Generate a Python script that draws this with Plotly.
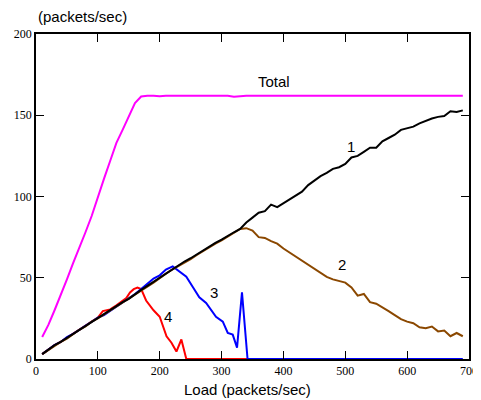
import plotly.graph_objects as go

# ---- data ----
load = list(range(10, 700, 10))

total = [13.5, 21, 30, 39, 49, 59, 68, 78, 88, 100, 111, 122, 133, 141, 149, 157.5, 161.5, 162, 162, 161.7,
         162, 162, 162, 162, 162, 162, 162, 162, 162, 162, 162, 161.4, 161.8, 162, 162, 161.8, 162, 162, 162, 162,
         162, 162, 162, 161.6, 162, 161.6, 162, 162, 162, 162, 162, 162, 162, 162, 162, 162, 162, 162, 162, 162,
         162, 162, 162, 162, 162, 162, 162, 162, 162]

series1 = [3, 6, 8.5, 10.5, 13, 15.5, 18, 20.5, 23, 25.5, 28, 30, 32.5, 35, 37, 40, 42.5, 45, 47.5, 50.5,
           53, 55, 57.5, 60, 62, 64.5, 67, 69, 71.5, 73.5, 76, 78, 80, 84, 87, 90, 91, 95, 93.5, 96,
           98.5, 101, 103, 107, 110, 112.5, 114.5, 117, 118, 120, 124, 125, 127.5, 130, 130, 134, 136, 138, 141, 142,
           143, 145, 146.5, 148, 149, 149.5, 152.5, 152, 153]

series2 = [3, 5.5, 8.5, 10.5, 12.5, 15.5, 18, 20, 23, 25, 27.5, 30, 32, 34.5, 37, 39.5, 42, 44.5, 47, 50,
           52.5, 55, 57, 59.5, 61.5, 64, 66.5, 69, 71, 73, 75.5, 77.5, 80, 80.5, 79, 75, 74.5, 72.5, 71, 68,
           65.5, 63.5, 61, 58.5, 56, 53, 50.5, 49, 48, 47, 44, 39, 40, 35, 34, 32, 29.5, 27, 24.5, 23,
           22, 19.5, 19, 20, 17, 17.5, 14, 16, 14]

load3 = [10, 20, 30, 40, 50, 60, 70, 80, 90, 100, 110, 120, 130, 140, 150, 160, 170, 180, 190, 200, 210, 221,
         232, 243, 254, 264, 275, 291, 302, 310, 318, 325, 333, 342, 690]
series3 = [3, 6, 8.5, 10.5, 13.5, 15.5, 18, 20.5, 23, 25.5, 27, 29.5, 32.5, 35, 37.5, 40, 43, 46, 49.5, 51.5, 55, 57,
           53.5, 50.6, 44, 38, 34.5, 26, 23, 16, 15, 7, 41, 0, 0]

load4 = [10, 20, 30, 40, 50, 60, 70, 80, 90, 100, 108, 120, 130, 140, 146, 152, 158, 164, 170, 178, 190, 200,
         205, 211, 219, 227, 235, 243, 342]
series4 = [3, 6, 8.5, 10.5, 13, 15.5, 18, 20.5, 23, 25.5, 29.5, 30.5, 33, 35.5, 37.5, 41, 43, 44, 43, 36, 30, 26,
           20, 14, 10, 4.6, 12, 0, 0]

labels = ["Total", "1", "2", "3", "4"]
label_x = [384, 510, 494, 287, 214]
label_y = [171, 131, 58, 41, 26]

x_ticks = [0, 100, 200, 300, 400, 500, 600, 700]
y_ticks = [0, 50, 100, 150, 200]

# ---- figure ----
fig = go.Figure()
lw = 2
fig.add_trace(go.Scatter(x=load, y=total, mode="lines", line=dict(color="#ff00ff", width=lw)))
fig.add_trace(go.Scatter(x=load4, y=series4, mode="lines", line=dict(color="#ff0000", width=lw)))
fig.add_trace(go.Scatter(x=load3, y=series3, mode="lines", line=dict(color="#0000ff", width=lw)))
fig.add_trace(go.Scatter(x=load, y=series2, mode="lines", line=dict(color="#8b4800", width=lw)))
fig.add_trace(go.Scatter(x=load, y=series1, mode="lines", line=dict(color="#000000", width=lw)))

for t, x, y in zip(labels, label_x, label_y):
    fig.add_annotation(x=x, y=y, text=t, showarrow=False,
                       font=dict(family="Liberation Sans, Arial", size=15, color="black"))

fig.add_annotation(xref="paper", yref="paper", x=0, y=1.055, xanchor="left", yanchor="middle",
                   text="(packets/sec)", showarrow=False,
                   font=dict(family="Liberation Sans, Arial", size=15, color="black"))
fig.add_annotation(xref="paper", yref="paper", x=0.488, y=-0.095, xanchor="center", yanchor="middle",
                   text="Load (packets/sec)", showarrow=False,
                   font=dict(family="Liberation Sans, Arial", size=15, color="black"))

axis_common = dict(showgrid=False, zeroline=False, showline=True, linecolor="black", linewidth=1.5,
                   mirror="ticks", ticks="inside", ticklen=8, tickcolor="black", tickwidth=1,
                   automargin=False,
                   tickfont=dict(family="Liberation Serif, Times New Roman", size=12, color="black"))

fig.update_xaxes(range=[0, 700], tickvals=x_ticks, ticktext=[str(v) for v in x_ticks], **axis_common)
fig.update_yaxes(range=[0, 200], tickvals=y_ticks, ticktext=[str(v) for v in y_ticks], **axis_common)

# the page body adds an 8px offset, so the figure is sized to fit the 481x400 window
fig.update_layout(width=473, height=392, showlegend=False,
                  margin=dict(l=28, r=12, t=26, b=41),
                  paper_bgcolor="white", plot_bgcolor="white")

fig.write_html("out.html")
